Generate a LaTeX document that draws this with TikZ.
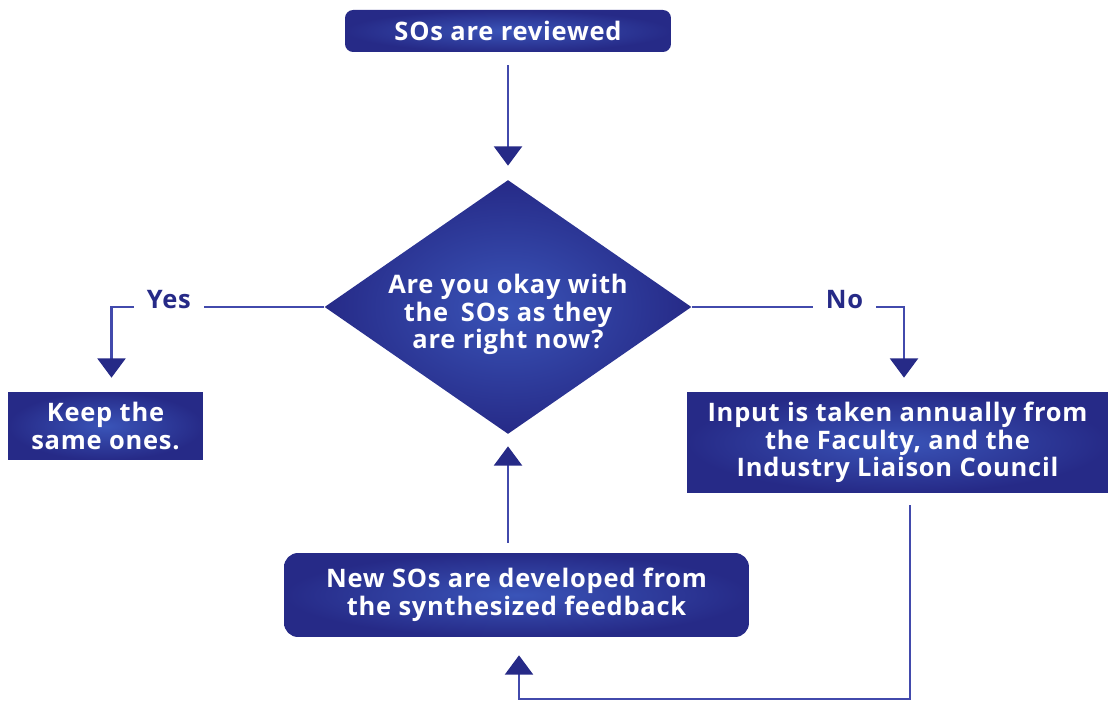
\documentclass[tikz,border=0pt]{standalone}
\usepackage{fontspec}
\setmainfont{Open Sans}[LetterSpace=3]
\usetikzlibrary{arrows.meta,positioning,shapes.geometric}
\definecolor{soNavy}{RGB}{38,42,135}
\definecolor{soMid}{RGB}{58,84,184}
\definecolor{soLine}{RGB}{66,74,172}
\tikzset{
  flowtext/.style={font=\fontsize{14.5}{15.6}\selectfont\bfseries, text=white, align=center},
  sobox/.style={flowtext, inner color=soMid, outer color=soNavy, inner sep=0pt},
  roundbox/.style={sobox, rounded corners=0.16cm},
  decision/.style={sobox, diamond, aspect=1.445, minimum width=7.34cm, minimum height=5.08cm},
  flowarrow/.style={draw=soLine, line width=1.2pt, -{Triangle[length=11pt,width=16pt,color=soNavy]}},
  branchlabel/.style={fill=white, text=soNavy, font=\fontsize{14.5}{15.6}\selectfont\bfseries, inner xsep=0.26cm, inner ysep=2pt, yshift=0.14cm}
}

\begin{document}
\begin{tikzpicture}[x=0.02cm,y=-0.02cm]
  \useasboundingbox (0,0) rectangle (1111,702);

  \node[roundbox, minimum width=6.52cm, minimum height=0.84cm] (review) at (508,31) {SOs are reviewed};
  \node[decision] (okay) at (508,307)
    {\raisebox{-0.17cm}[\height][\depth]{\begin{tabular}{@{}c@{}}Are you okay with\\the\enspace SOs as they\\are right now?\end{tabular}}};
  \node[sobox, minimum width=3.9cm, minimum height=1.36cm] (keep) at (105.5,426) {Keep the\\same ones.};
  \node[sobox, minimum width=8.42cm, minimum height=2.02cm] (input) at (897.5,442.5)
    {Input is taken annually from\\the Faculty, and the\\Industry Liaison Council};
  \node[roundbox, rounded corners=0.28cm, minimum width=9.3cm, minimum height=1.68cm] (newsos) at (516.5,595)
    {New SOs are developed from\\the synthesized feedback};

  \coordinate (loop) at (910,699);

  \draw[flowarrow, shorten <=0.26cm, shorten >=0.28cm] (review) -- (okay);
  \draw[flowarrow, shorten >=0.28cm] (okay.west) -| node[branchlabel, pos=0.365]{Yes} ([xshift=0.12cm]keep.north);
  \draw[flowarrow, shorten >=0.28cm] (okay.east) -| node[branchlabel, pos=0.36]{No} ([xshift=0.13cm]input.north);
  \draw[flowarrow, shorten <=0.24cm, shorten >=0.36cm] (input.south -| loop) -- (loop) -| ([xshift=0.05cm]newsos.south);
  \draw[flowarrow, shorten <=0.2cm, shorten >=0.24cm] (newsos.north -| okay.south) -- (okay.south);
\end{tikzpicture}
\end{document}
